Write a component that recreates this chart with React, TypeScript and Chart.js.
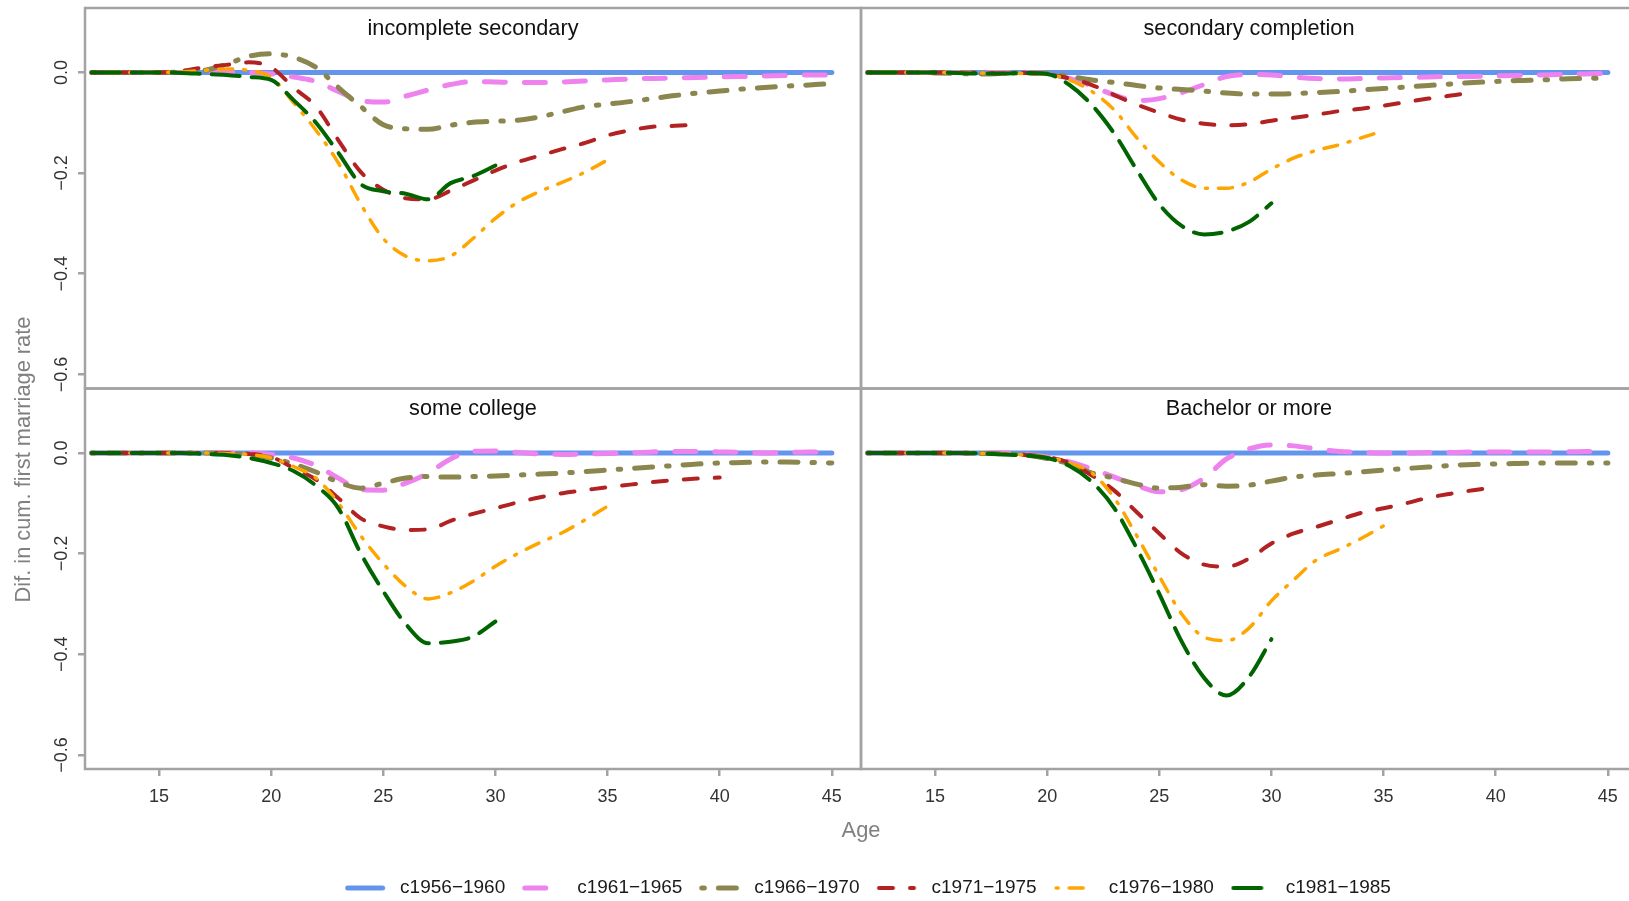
import { useEffect, useRef } from 'react';
import { Chart, registerables } from 'chart.js';

Chart.register(...registerables);

// ---------------- data ----------------
const AGES = [12, 13, 14, 15, 16, 17, 18, 19, 20, 21, 22, 23, 24, 25, 26, 27, 28, 29, 30, 31, 32, 33, 34, 35, 36, 37, 38, 39, 40, 41, 42, 43, 44, 45];

const PANELS = ['incomplete secondary', 'secondary completion', 'some college', 'Bachelor or more'];
const COHORTS = ['c1956−1960', 'c1961−1965', 'c1966−1970', 'c1971−1975', 'c1976−1980', 'c1981−1985'];
const X_TICKS = [15, 20, 25, 30, 35, 40, 45];
const Y_TICKS = [0, -0.2, -0.4, -0.6];
const Y_TICK_LABELS = ['0.0', '−0.2', '−0.4', '−0.6'];
const X_TITLE = 'Age';
const Y_TITLE = 'Dif. in cum. first marriage rate';

// reference cohort (difference with itself)
const C1956 = [0, 0, 0, 0, 0, 0, 0, 0, 0, 0, 0, 0, 0, 0, 0, 0, 0, 0, 0, 0, 0, 0, 0, 0, 0, 0, 0, 0, 0, 0, 0, 0, 0, 0];

// incomplete secondary
const IS_C1961 = [0, 0, 0, 0, 0, 0, 0, 0, -0.003, -0.009, -0.018, -0.038, -0.056, -0.059, -0.047, -0.035, -0.024, -0.018, -0.019, -0.02, -0.02, -0.019, -0.017, -0.015, -0.013, -0.012, -0.011, -0.01, -0.009, -0.008, -0.007, -0.006, -0.005, -0.005];
const IS_C1966 = [0, 0, 0, 0, 0.001, 0.004, 0.016, 0.032, 0.037, 0.03, 0.01, -0.03, -0.068, -0.104, -0.112, -0.113, -0.105, -0.099, -0.097, -0.095, -0.088, -0.078, -0.068, -0.063, -0.058, -0.052, -0.046, -0.041, -0.037, -0.033, -0.03, -0.027, -0.025, -0.022];
const IS_C1971 = [0, 0, 0, 0, 0.003, 0.01, 0.015, 0.02, 0.01, -0.03, -0.068, -0.135, -0.198, -0.233, -0.25, -0.252, -0.235, -0.215, -0.195, -0.178, -0.165, -0.152, -0.14, -0.125, -0.115, -0.108, -0.106, -0.104, null, null, null, null, null, null];
const IS_C1976 = [0, 0, 0, 0, 0.001, 0.004, 0.007, 0.004, -0.01, -0.06, -0.115, -0.18, -0.262, -0.33, -0.365, -0.374, -0.365, -0.33, -0.29, -0.258, -0.236, -0.218, -0.198, -0.174, null, null, null, null, null, null, null, null, null, null];
const IS_C1981 = [0, 0, 0, 0, -0.001, -0.003, -0.005, -0.009, -0.015, -0.055, -0.1, -0.16, -0.222, -0.236, -0.241, -0.252, -0.22, -0.206, -0.185, null, null, null, null, null, null, null, null, null, null, null, null, null, null, null];

// secondary completion
const SC_C1961 = [0, 0, 0, 0, 0, 0, 0, 0, -0.002, -0.012, -0.027, -0.045, -0.056, -0.052, -0.04, -0.024, -0.008, -0.004, -0.005, -0.009, -0.012, -0.013, -0.012, -0.011, -0.01, -0.009, -0.008, -0.008, -0.007, -0.006, -0.005, -0.004, -0.003, -0.002];
const SC_C1966 = [0, 0, 0, -0.001, -0.002, -0.003, -0.002, -0.001, -0.002, -0.008, -0.015, -0.02, -0.026, -0.031, -0.034, -0.037, -0.041, -0.043, -0.043, -0.042, -0.04, -0.038, -0.035, -0.032, -0.029, -0.026, -0.023, -0.02, -0.018, -0.016, -0.015, -0.013, -0.012, -0.011];
const SC_C1971 = [0, 0, 0, 0, 0, -0.001, -0.002, -0.001, -0.004, -0.012, -0.025, -0.045, -0.064, -0.08, -0.094, -0.102, -0.105, -0.103, -0.096, -0.09, -0.084, -0.077, -0.072, -0.066, -0.059, -0.052, -0.046, -0.04, null, null, null, null, null, null];
const SC_C1976 = [0, 0, 0, 0, 0, -0.001, -0.002, -0.002, -0.004, -0.015, -0.038, -0.075, -0.13, -0.178, -0.214, -0.23, -0.23, -0.218, -0.192, -0.17, -0.155, -0.144, -0.13, -0.116, null, null, null, null, null, null, null, null, null, null];
const SC_C1981 = [0, 0, 0, 0, -0.001, -0.002, -0.002, -0.001, -0.003, -0.025, -0.065, -0.122, -0.194, -0.262, -0.305, -0.322, -0.316, -0.297, -0.26, null, null, null, null, null, null, null, null, null, null, null, null, null, null, null];

// some college
const CO_C1961 = [0, 0, 0, 0, 0, 0, 0, 0, -0.003, -0.01, -0.025, -0.05, -0.073, -0.074, -0.06, -0.04, -0.012, 0.003, 0.004, 0.001, -0.002, -0.003, -0.002, -0.001, 0, 0.002, 0.003, 0.003, 0.002, 0.001, 0, 0.001, 0.002, 0.002];
const CO_C1966 = [0, 0, 0, 0, 0, 0, -0.001, -0.003, -0.01, -0.022, -0.038, -0.058, -0.07, -0.06, -0.05, -0.047, -0.048, -0.047, -0.046, -0.044, -0.042, -0.04, -0.037, -0.034, -0.031, -0.028, -0.025, -0.022, -0.02, -0.019, -0.018, -0.018, -0.019, -0.02];
const CO_C1971 = [0, 0, 0, 0, 0, 0, 0, -0.002, -0.008, -0.03, -0.053, -0.09, -0.13, -0.146, -0.153, -0.152, -0.135, -0.121, -0.11, -0.098, -0.088, -0.08, -0.074, -0.068, -0.063, -0.058, -0.054, -0.051, -0.049, null, null, null, null, null];
const CO_C1976 = [0, 0, 0, 0, 0, 0, -0.001, -0.003, -0.01, -0.027, -0.05, -0.1, -0.165, -0.22, -0.265, -0.29, -0.278, -0.255, -0.225, -0.2, -0.178, -0.158, -0.133, -0.106, null, null, null, null, null, null, null, null, null, null];
const CO_C1981 = [0, 0, 0, 0, 0, -0.002, -0.004, -0.01, -0.02, -0.036, -0.065, -0.11, -0.2, -0.275, -0.34, -0.378, -0.375, -0.365, -0.335, null, null, null, null, null, null, null, null, null, null, null, null, null, null, null];

// Bachelor or more
const BA_C1961 = [0, 0, 0, 0, 0, 0, 0, -0.003, -0.008, -0.018, -0.032, -0.048, -0.065, -0.077, -0.073, -0.05, -0.012, 0.008, 0.016, 0.014, 0.008, 0.003, 0.001, 0, 0, 0.001, 0.001, 0.002, 0.002, 0.002, 0.002, 0.002, 0.003, 0.003];
const BA_C1966 = [0, 0, 0, 0, 0, -0.001, -0.002, -0.004, -0.011, -0.022, -0.04, -0.05, -0.062, -0.07, -0.068, -0.063, -0.066, -0.064, -0.056, -0.048, -0.044, -0.041, -0.038, -0.034, -0.031, -0.028, -0.025, -0.023, -0.022, -0.021, -0.02, -0.02, -0.02, -0.02];
const BA_C1971 = [0, 0, 0, 0, 0, -0.001, -0.002, -0.004, -0.008, -0.02, -0.045, -0.075, -0.118, -0.16, -0.2, -0.222, -0.226, -0.21, -0.18, -0.16, -0.147, -0.133, -0.119, -0.11, -0.1, -0.089, -0.081, -0.074, -0.068, null, null, null, null, null];
const BA_C1976 = [0, 0, 0, 0, 0, -0.001, -0.002, -0.004, -0.008, -0.02, -0.04, -0.09, -0.165, -0.245, -0.32, -0.366, -0.373, -0.348, -0.294, -0.252, -0.213, -0.192, -0.17, -0.145, null, null, null, null, null, null, null, null, null, null];
const BA_C1981 = [0, 0, 0, 0, 0, -0.001, -0.003, -0.005, -0.01, -0.026, -0.058, -0.11, -0.19, -0.28, -0.375, -0.447, -0.482, -0.445, -0.37, null, null, null, null, null, null, null, null, null, null, null, null, null, null, null];

const PANEL_SERIES = [
  [C1956, IS_C1961, IS_C1966, IS_C1971, IS_C1976, IS_C1981],
  [C1956, SC_C1961, SC_C1966, SC_C1971, SC_C1976, SC_C1981],
  [C1956, CO_C1961, CO_C1966, CO_C1971, CO_C1976, CO_C1981],
  [C1956, BA_C1961, BA_C1966, BA_C1971, BA_C1976, BA_C1981],
];

// ---------------- styles ----------------
const COLORS = ['#6495ED', '#EE82EE', '#8B864E', '#B22222', '#FFA500', '#006400'];
const WIDTHS = [5, 5, 5, 4, 3.5, 4];
const DASHES: number[][] = [[], [21, 19], [2.5, 14, 18, 14], [14, 17], [2, 11, 14, 11], [28, 12]];

const FONT = '"Liberation Sans", Arial, Helvetica, sans-serif';
const BORDER = '#a3a3a3';
const CANVAS_W = 1637;
const CANVAS_H = 910;
const LEGEND_SHIFT = 7;

function makeSample(color: string, width: number, dash: number[]) {
  const c = document.createElement('canvas');
  c.width = 46;
  c.height = 14;
  const g = c.getContext('2d')!;
  g.strokeStyle = color;
  g.lineWidth = width;
  g.lineCap = 'round';
  g.setLineDash(dash);
  g.beginPath();
  g.moveTo(2.75, 7);
  g.lineTo(37.75, 7);
  g.stroke();
  return c;
}

const panelPlugin = {
  id: 'panelDecor',
  afterLayout(chart: any) {
    const lg = chart.legend;
    if (lg) {
      lg.left += LEGEND_SHIFT;
      lg.right += LEGEND_SHIFT;
    }
  },
  afterDraw(chart: any) {
    const ctx = chart.ctx as CanvasRenderingContext2D;
    const xs = [chart.scales.x1, chart.scales.x2];
    const ys = [chart.scales.y1, chart.scales.y2];
    ctx.save();
    // panel frames
    ctx.strokeStyle = BORDER;
    ctx.lineWidth = 2.5;
    for (let r = 0; r < 2; r++) {
      for (let c = 0; c < 2; c++) {
        ctx.strokeRect(xs[c].left, ys[r].top, xs[c].right - xs[c].left, ys[r].bottom - ys[r].top);
      }
    }
    // strip titles
    ctx.fillStyle = '#111111';
    ctx.font = `21.7px ${FONT}`;
    ctx.textAlign = 'center';
    ctx.textBaseline = 'alphabetic';
    for (let r = 0; r < 2; r++) {
      for (let c = 0; c < 2; c++) {
        ctx.fillText(PANELS[r * 2 + c], (xs[c].left + xs[c].right) / 2, ys[r].top + 26.7);
      }
    }
    // rotated y tick labels
    ctx.fillStyle = '#333333';
    ctx.font = `18px ${FONT}`;
    ctx.textBaseline = 'middle';
    for (let r = 0; r < 2; r++) {
      Y_TICKS.forEach((v, i) => {
        const py = ys[r].getPixelForValue(v);
        ctx.save();
        ctx.translate(62, py);
        ctx.rotate(-Math.PI / 2);
        ctx.fillText(Y_TICK_LABELS[i], 0, 0);
        ctx.restore();
      });
    }
    // axis titles
    ctx.fillStyle = '#808080';
    ctx.font = `21.8px ${FONT}`;
    ctx.textBaseline = 'alphabetic';
    ctx.fillText(X_TITLE, xs[0].right, 836.5);
    ctx.save();
    ctx.translate(24, 459.5);
    ctx.rotate(-Math.PI / 2);
    ctx.textBaseline = 'middle';
    ctx.fillText(Y_TITLE, 0, 0);
    ctx.restore();
    ctx.restore();
  },
};

function xScale(weight: number) {
  return {
    type: 'linear' as const,
    position: 'bottom' as const,
    stack: 'cols',
    weight,
    min: 11.7,
    max: 46.3,
    afterBuildTicks: (s: any) => {
      s.ticks = X_TICKS.map((v) => ({ value: v }));
    },
    afterFit: (s: any) => {
      s.height = 92.5;
      s.paddingLeft = 0;
      s.paddingRight = 0;
    },
    grid: { display: true, drawOnChartArea: false, drawTicks: true, tickLength: 7, color: BORDER, lineWidth: 2.5 },
    border: { display: false },
    ticks: {
      color: '#333333',
      font: { family: FONT, size: 18 },
      padding: 10,
      maxRotation: 0,
      autoSkip: false,
      callback: (v: any) => String(v),
    },
  };
}

function yScale(weight: number) {
  return {
    type: 'linear' as const,
    position: 'left' as const,
    stack: 'rows',
    weight,
    min: -0.628,
    max: 0.128,
    afterBuildTicks: (s: any) => {
      s.ticks = Y_TICKS.map((v) => ({ value: v }));
    },
    afterFit: (s: any) => {
      s.width = 85;
      s.paddingTop = 0;
      s.paddingBottom = 0;
    },
    grid: { display: true, drawOnChartArea: false, drawTicks: true, tickLength: 7, color: BORDER, lineWidth: 2.5 },
    border: { display: false },
    ticks: { display: false },
  };
}

export default function App() {
  const ref = useRef<HTMLCanvasElement | null>(null);

  useEffect(() => {
    if (!ref.current) return;
    const datasets: any[] = [];
    PANEL_SERIES.forEach((series, p) => {
      const xId = 'x' + ((p % 2) + 1);
      const yId = 'y' + (Math.floor(p / 2) + 1);
      for (let s = series.length - 1; s >= 0; s--) {
        const vals = series[s];
        const pts: { x: number; y: number }[] = [];
        AGES.forEach((a, i) => {
          const v = vals[i];
          if (v !== null && v !== undefined) pts.push({ x: a, y: v });
        });
        datasets.push({
          label: `${PANELS[p]} ${COHORTS[s]}`,
          data: pts,
          xAxisID: xId,
          yAxisID: yId,
          borderColor: COLORS[s],
          backgroundColor: COLORS[s],
          borderWidth: WIDTHS[s],
          borderDash: DASHES[s],
          borderCapStyle: 'round',
          borderJoinStyle: 'round',
          pointRadius: 0,
          pointHoverRadius: 0,
          cubicInterpolationMode: 'monotone',
          fill: false,
          spanGaps: false,
        });
      }
    });

    const samples = COHORTS.map((_, i) => makeSample(COLORS[i], WIDTHS[i], DASHES[i]));

    const chart = new Chart(ref.current, {
      type: 'line',
      data: { datasets },
      options: {
        responsive: false,
        animation: false,
        devicePixelRatio: 1,
        parsing: false as any,
        normalized: true,
        events: [],
        layout: { padding: { top: 8, left: 0, right: 0, bottom: 2.5 } },
        plugins: {
          tooltip: { enabled: false },
          legend: {
            position: 'bottom',
            fullSize: false,
            labels: {
              usePointStyle: true,
              pointStyleWidth: 45.5,
              boxHeight: 19,
              padding: 17,
              color: '#1a1a1a',
              font: { family: FONT, size: 19 },
              generateLabels: () =>
                COHORTS.map((name, i) => ({
                  text: name,
                  pointStyle: samples[i] as any,
                  fillStyle: COLORS[i],
                  strokeStyle: COLORS[i],
                  lineWidth: 0,
                  hidden: false,
                  datasetIndex: i,
                  fontColor: '#1a1a1a',
                })),
            },
          },
        },
        scales: {
          x1: xScale(0),
          x2: xScale(1),
          y1: yScale(1),
          y2: yScale(0),
        } as any,
      },
      plugins: [panelPlugin],
    });
    return () => chart.destroy();
  }, []);

  return (
    <div
      style={{
        position: 'fixed',
        left: 0,
        top: 0,
        width: 1629,
        height: 901,
        overflow: 'hidden',
        background: '#ffffff',
      }}
    >
      <canvas
        ref={ref}
        width={CANVAS_W}
        height={CANVAS_H}
        style={{ width: CANVAS_W, height: CANVAS_H, display: 'block' }}
      />
    </div>
  );
}
